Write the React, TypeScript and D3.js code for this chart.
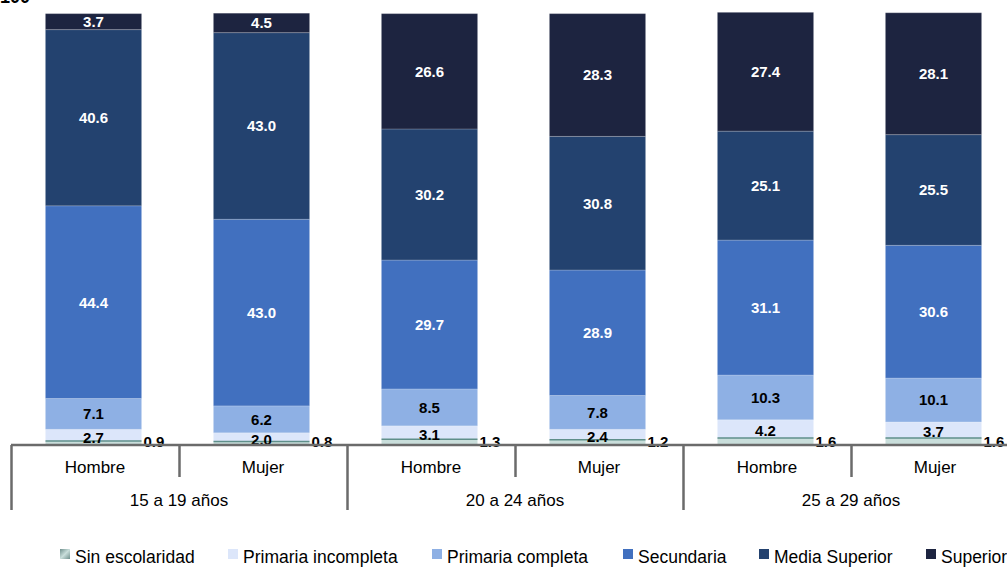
import React from "react";
import * as d3 from "d3";

const bars = ["Hombre", "Mujer", "Hombre", "Mujer", "Hombre", "Mujer"];
const groups = ["15 a 19 años", "20 a 24 años", "25 a 29 años"];
const seriesNames = [
  "Sin escolaridad",
  "Primaria incompleta",
  "Primaria completa",
  "Secundaria",
  "Media Superior",
  "Superior",
];
const sinEscolaridad = [0.9, 0.8, 1.3, 1.2, 1.6, 1.6];
const primariaIncompleta = [2.7, 2.0, 3.1, 2.4, 4.2, 3.7];
const primariaCompleta = [7.1, 6.2, 8.5, 7.8, 10.3, 10.1];
const secundaria = [44.4, 43.0, 29.7, 28.9, 31.1, 30.6];
const mediaSuperior = [40.6, 43.0, 30.2, 30.8, 25.1, 25.5];
const superior = [3.7, 4.5, 26.6, 28.3, 27.4, 28.1];
const yTickTop = "100";

const seriesValues = [
  sinEscolaridad,
  primariaIncompleta,
  primariaCompleta,
  secundaria,
  mediaSuperior,
  superior,
];
const colors = ["#c9dedb", "#dce6fa", "#8eb0e4", "#4170bf", "#23426f", "#1d2440"];
const labelColors = ["#000", "#000", "#000", "#fff", "#fff", "#fff"];
const legendX = [60, 228, 432, 623, 759, 926];

const W = 1007;
const H = 568;
const FONT = "'Liberation Sans', Arial, sans-serif";

export default function App() {
  const xBand = d3
    .scaleBand<number>()
    .domain(d3.range(bars.length))
    .range([11, 1019])
    .padding(0);
  const step = xBand.step();
  const barW = 96;
  const y = d3.scaleLinear().domain([0, 100]).range([445, 11]);

  const table = bars.map((b, i) => {
    const row: any = { i };
    seriesNames.forEach((s, k) => (row[s] = seriesValues[k][i]));
    return row;
  });
  const stacked = d3.stack<any>().keys(seriesNames)(table);

  const axisY = y(0);

  return (
    <svg width={W} height={H} style={{ display: "block", position: "absolute", left: 0, top: 0 }} fontFamily={FONT}>
      <defs>
        <linearGradient id="sinGrad" x1="0" y1="0" x2="1" y2="1">
          <stop offset="0%" stopColor="#6f8f8c" />
          <stop offset="50%" stopColor="#c9dedb" />
          <stop offset="100%" stopColor="#6f8f8c" />
        </linearGradient>
      </defs>
      <rect width={W} height={H} fill="#fff" />
      <text x={30} y={3} textAnchor="end" fontSize={18} fontWeight="bold" fill="#000">
        {yTickTop}
      </text>
      {stacked.map((layer, k) => (
        <g key={k}>
          {layer.map((d, i) => {
            const x0 = (xBand(i) as number) + step / 2 - 1.5 - barW / 2;
            const yTop = y(d[1]);
            const yBot = y(d[0]);
            return (
              <rect
                key={i}
                x={x0}
                y={yTop}
                width={barW}
                height={Math.max(0, yBot - yTop)}
                fill={colors[k]}
              />
            );
          })}
        </g>
      ))}
      {stacked.map((layer, k) =>
        layer.map((d, i) => {
          const x0 = (xBand(i) as number) + step / 2 - 1.5 - barW / 2;
          return (
            <line
              key={`s${k}-${i}`}
              x1={x0}
              x2={x0 + barW}
              y1={y(d[1])}
              y2={y(d[1])}
              stroke={k === 0 ? "#5f8f8a" : "#ffffff"}
              strokeOpacity={k === 0 ? 1 : 0.25}
              strokeWidth={k === 0 ? 1.5 : 1}
            />
          );
        })
      )}
      {stacked.map((layer, k) =>
        layer.map((d, i) => {
          const cx = (xBand(i) as number) + step / 2 - 1.5;
          const v = seriesValues[k][i];
          if (k === 0) {
            return (
              <text
                key={`l${k}-${i}`}
                x={cx + barW / 2 + 2}
                y={axisY + 2}
                fontSize={15}
                fontWeight="bold"
                fill="#000"
              >
                {v.toFixed(1)}
              </text>
            );
          }
          const cy = (y(d[0]) + y(d[1])) / 2 + (k === 1 ? 2 : 0);
          return (
            <text
              key={`l${k}-${i}`}
              x={cx}
              y={cy}
              dy="0.36em"
              textAnchor="middle"
              fontSize={15}
              fontWeight="bold"
              fill={labelColors[k]}
            >
              {v.toFixed(1)}
            </text>
          );
        })
      )}
      <line x1={11} x2={W} y1={axisY} y2={axisY} stroke="#6b6b6b" strokeWidth={2.5} />
      {bars.map((b, i) => {
        const x0 = xBand(i) as number;
        const major = i % 2 === 0;
        return (
          <g key={`t${i}`}>
            <line
              x1={x0 + 0.5}
              x2={x0 + 0.5}
              y1={axisY}
              y2={major ? 510 : 477}
              stroke="#6b6b6b"
              strokeWidth={2.5}
            />
            <text x={x0 + step / 2} y={473} textAnchor="middle" fontSize={17} fill="#000">
              {b}
            </text>
          </g>
        );
      })}
      {groups.map((g, j) => {
        const x0 = xBand(j * 2) as number;
        return (
          <text key={`g${j}`} x={x0 + step} y={506} textAnchor="middle" fontSize={17} fill="#000">
            {g}
          </text>
        );
      })}
      {seriesNames.map((s, k) => (
        <g key={`lg${k}`}>
          <rect
            x={legendX[k]}
            y={549}
            width={10}
            height={10}
            fill={k === 0 ? "url(#sinGrad)" : colors[k]}
          />
          <text x={legendX[k] + 15} y={563} fontSize={17.5} fill="#000">
            {s}
          </text>
        </g>
      ))}
    </svg>
  );
}
